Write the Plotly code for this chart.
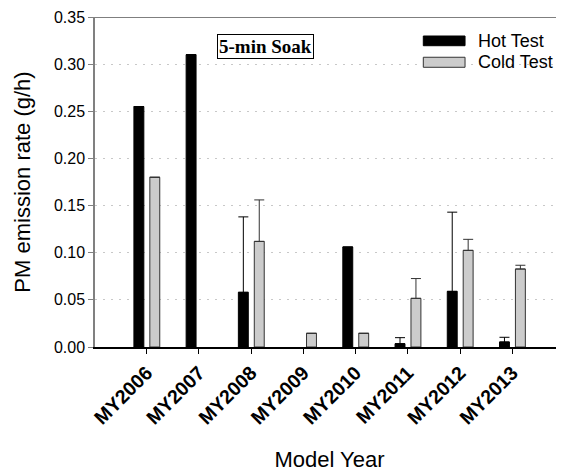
import plotly.graph_objects as go

categories = ["MY2006", "MY2007", "MY2008", "MY2009", "MY2010", "MY2011", "MY2012", "MY2013"]
hot = [0.255, 0.310, 0.058, None, 0.106, 0.0035, 0.059, 0.0053]
hot_err = [None, None, 0.080, None, None, 0.0064, 0.084, 0.005]
cold = [0.180, None, 0.112, 0.0145, 0.0145, 0.0516, 0.1025, 0.0827]
cold_err = [None, None, 0.044, None, None, 0.021, 0.0117, 0.004]
y_ticks = [0.0, 0.05, 0.10, 0.15, 0.20, 0.25, 0.30, 0.35]

FONT = "Arial, Liberation Sans, sans-serif"

fig = go.Figure()
fig.add_trace(go.Bar(
    x=categories, y=hot, name="Hot Test",
    marker=dict(color="black", line=dict(color="black", width=1)),
    width=0.19, offset=-0.245,
    error_y=dict(type="data", array=hot_err, arrayminus=[0] * len(hot), symmetric=False,
                 color="black", thickness=1, width=5),
    showlegend=False,
))
fig.add_trace(go.Bar(
    x=categories, y=cold, name="Cold Test",
    marker=dict(color="#cccccc", line=dict(color="#333333", width=1)),
    width=0.19, offset=0.06,
    error_y=dict(type="data", array=cold_err, arrayminus=[0] * len(cold), symmetric=False,
                 color="#333333", thickness=1, width=5),
    showlegend=False,
))

# the page body adds an 8px margin, so the figure is 8px smaller than the window
fig.update_layout(
    width=556, height=465,
    margin=dict(l=87, r=0, t=9, b=126, autoexpand=False),
    paper_bgcolor="white", plot_bgcolor="white",
    barmode="overlay",
    font=dict(family=FONT, color="black"),
    xaxis=dict(
        type="category", categoryorder="array", categoryarray=categories,
        range=[-0.99, 7.99], automargin=False,
        showline=True, linecolor="black", linewidth=1.5,
        ticks="outside", ticklen=5, tickcolor="black",
        tickangle=-45, tickfont=dict(family=FONT, size=19.5, weight="bold"),
        showgrid=False,
        title=dict(text="Model Year", font=dict(family=FONT, size=22), standoff=24),
    ),
    yaxis=dict(
        range=[0, 0.35], tickvals=y_ticks, tickformat=".2f", automargin=False,
        showline=True, linecolor="#808080", linewidth=1.5,
        ticks="outside", ticklen=5, tickcolor="#808080",
        tickfont=dict(family=FONT, size=16),
        showgrid=True, gridcolor="#c8c8c8", griddash="2px,6px", gridwidth=1,
        zeroline=False,
        title=dict(text="PM emission rate (g/h)", font=dict(family=FONT, size=22), standoff=17),
    ),
    shapes=[
        dict(type="line", xref="paper", yref="y", x0=0, x1=1, y0=0.35, y1=0.35,
             line=dict(color="#555555", width=1.5)),
        dict(type="rect", xref="paper", yref="paper", x0=0.700, x1=0.789, y0=0.913, y1=0.9424,
             fillcolor="black", line=dict(color="black", width=1)),
        dict(type="rect", xref="paper", yref="paper", x0=0.700, x1=0.789, y0=0.8476, y1=0.878,
             fillcolor="#cccccc", line=dict(color="#333333", width=1)),
    ],
    annotations=[
        dict(text="5-min Soak", xref="paper", yref="paper", x=0.364, y=0.910,
             showarrow=False, xanchor="center", yanchor="middle",
             font=dict(family="Times New Roman, Liberation Serif, serif", size=19, weight="bold"),
             bordercolor="black", borderwidth=1, borderpad=1, bgcolor="white"),
        dict(text="Hot Test", xref="paper", yref="paper", x=0.8124, y=0.927,
             showarrow=False, xanchor="left", yanchor="middle",
             font=dict(family=FONT, size=18)),
        dict(text="Cold Test", xref="paper", yref="paper", x=0.8124, y=0.8636,
             showarrow=False, xanchor="left", yanchor="middle",
             font=dict(family=FONT, size=18)),
    ],
)

fig.write_html("out.html")
